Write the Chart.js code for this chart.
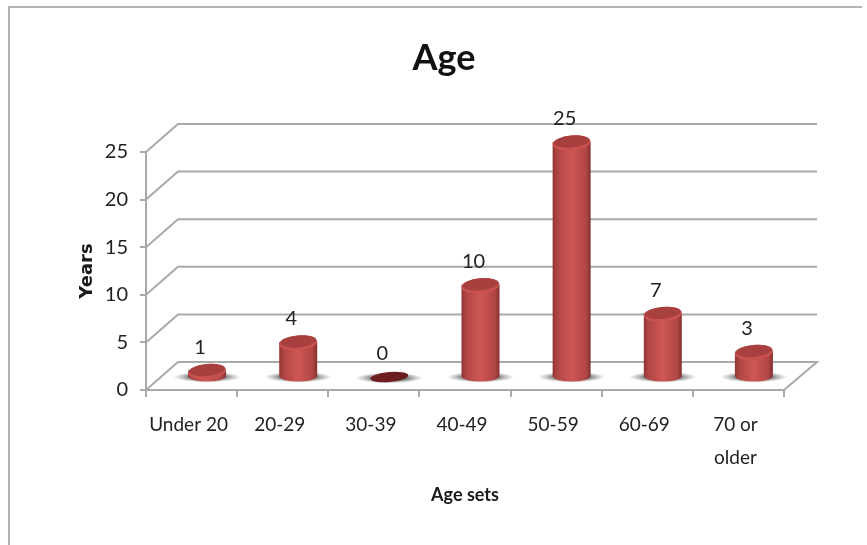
<!DOCTYPE html>
<html>
<head>
<meta charset="utf-8">
<title>Age</title>
<script src="https://cdn.jsdelivr.net/npm/chart.js@4"></script>
<style>
  html, body { margin: 0; padding: 0; background: #fff; overflow: hidden; }
  #wrap { position: relative; width: 867px; height: 545px; }
  #frame { position: absolute; left: 8px; top: 6px; width: 852px; height: 539px;
           border-left: 2px solid #b4b4b4; border-top: 2px solid #b4b4b4; }
  canvas { position: absolute; left: 0; top: 0; filter: blur(0.7px); }
</style>
</head>
<body>
<div id="wrap">
  <div id="frame"></div>
  <canvas id="chart" width="867" height="545"></canvas>
</div>
<script>
const categories = ['Under 20', '20-29', '30-39', '40-49', '50-59', '60-69', ['70 or', 'older']];
const values = [1, 4, 0, 10, 25, 7, 3];
const yTicks = [0, 5, 10, 15, 20, 25];

const chartTitle = 'Age';
const xTitle = 'Age sets';
const yTitle = 'Years';

const gridColor = '#a9a9a9';
const textColor = '#222';
const labelFont = '"Lato", "Open Sans", sans-serif';

// depth of the fake 3D floor, in pixels
const depthX = 32;
const depthY = 28;

// back walls and the floor, hung on the y scale
const wallsPlugin = {
  id: 'walls',
  beforeDatasetsDraw(chart) {
    const { ctx, chartArea, scales } = chart;
    ctx.save();
    ctx.strokeStyle = gridColor;
    ctx.lineWidth = 2;
    yTicks.forEach(function (t) {
      const y = scales.y.getPixelForValue(t);
      ctx.beginPath();
      ctx.moveTo(chartArea.left, y);
      ctx.lineTo(chartArea.left + depthX, y - depthY);
      ctx.lineTo(chartArea.right + depthX + 1, y - depthY);
      if (t === 0) {
        ctx.lineTo(chartArea.right, y);
      }
      ctx.stroke();
    });
    ctx.restore();
  }
};

function ellipse(ctx, x, y, rx, ry) {
  ctx.beginPath();
  ctx.ellipse(x, y, rx, ry, -0.09, 0, Math.PI * 2);
}

// the bars themselves are transparent, a cylinder is painted at each one
const cylinderPlugin = {
  id: 'cylinders',
  afterDatasetsDraw(chart) {
    const ctx = chart.ctx;
    const bars = chart.getDatasetMeta(0).data;
    ctx.save();
    bars.forEach(function (bar, i) {
      const cx = bar.x + 15.5;
      const baseY = bar.base - 13;
      const topY = values[i] === 0 ? baseY : bar.y - 10;
      const rx = 19;
      const ry = 7.5;

      // shadow on the floor
      ctx.save();
      ctx.translate(cx, baseY + 1);
      ctx.scale(1, 0.16);
      const sh = ctx.createRadialGradient(0, 0, 14, 0, 0, 34);
      sh.addColorStop(0, 'rgba(50,50,50,0.85)');
      sh.addColorStop(1, 'rgba(130,130,130,0)');
      ctx.fillStyle = sh;
      ctx.beginPath();
      ctx.arc(0, 0, 34, 0, Math.PI * 2);
      ctx.fill();
      ctx.restore();

      if (values[i] === 0) {
        ctx.fillStyle = '#6d1f1f';
        ellipse(ctx, cx, baseY, rx, 5);
        ctx.fill();
        return;
      }

      const side = ctx.createLinearGradient(cx - rx, 0, cx + rx, 0);
      side.addColorStop(0, '#8f3533');
      side.addColorStop(0.12, '#b04644');
      side.addColorStop(0.5, '#cf5755');
      side.addColorStop(0.88, '#b04644');
      side.addColorStop(1, '#843030');
      ctx.fillStyle = side;
      ctx.beginPath();
      ctx.moveTo(cx - rx, topY);
      ctx.lineTo(cx - rx, baseY);
      ctx.ellipse(cx, baseY, rx, ry - 2, 0, Math.PI, 0, true);
      ctx.lineTo(cx + rx, topY);
      ctx.closePath();
      ctx.fill();

      // lid
      ctx.fillStyle = '#c9524f';
      ellipse(ctx, cx, topY + 1, rx, ry);
      ctx.fill();
      ctx.fillStyle = '#a8403f';
      ellipse(ctx, cx, topY - 0.5, rx - 1, ry - 1.5);
      ctx.fill();
    });
    ctx.restore();
  }
};

// value labels and the title, the title is off centre so it is not the built-in one
const textPlugin = {
  id: 'texts',
  afterDraw(chart) {
    const ctx = chart.ctx;
    const bars = chart.getDatasetMeta(0).data;
    ctx.save();
    ctx.fillStyle = textColor;
    ctx.textAlign = 'center';
    ctx.textBaseline = 'middle';
    ctx.font = '20px ' + labelFont;
    bars.forEach(function (bar, i) {
      const topY = values[i] === 0 ? bar.base - 13 : bar.y - 10;
      ctx.fillText(String(values[i]), bar.x + 8.5, topY - 23);
    });
    ctx.fillStyle = '#111';
    ctx.font = 'bold 36px ' + labelFont;
    ctx.fillText(chartTitle, 444, 58);
    ctx.restore();
  }
};

new Chart(document.getElementById('chart').getContext('2d'), {
  type: 'bar',
  data: {
    labels: categories,
    datasets: [{
      label: 'Age',
      data: values,
      backgroundColor: 'transparent',
      borderWidth: 0
    }]
  },
  plugins: [wallsPlugin, cylinderPlugin, textPlugin],
  options: {
    responsive: false,
    animation: false,
    devicePixelRatio: 1,
    layout: { padding: { left: 73, top: 152, right: 83, bottom: 35 } },
    plugins: {
      legend: { display: false },
      title: { display: false },
      tooltip: { enabled: false }
    },
    scales: {
      x: {
        afterFit(scale) { scale.height = 120; },
        grid: { drawOnChartArea: false, offset: true, color: gridColor, lineWidth: 2, tickLength: 7 },
        border: { color: gridColor, width: 2 },
        ticks: { color: textColor, padding: 12, maxRotation: 0, autoSkip: false, labelOffset: -3,
                 font: { family: labelFont, size: 19, lineHeight: 1.7 } },
        title: { display: true, text: xTitle, color: '#1a1a1a', padding: 4,
                 font: { family: labelFont, size: 18, weight: 'bold' } }
      },
      y: {
        min: 0,
        max: 25,
        afterFit(scale) { scale.width = 73; },
        afterBuildTicks(scale) { scale.ticks = yTicks.map(function (v) { return { value: v }; }); },
        grid: { drawOnChartArea: false, color: gridColor, lineWidth: 2, tickLength: 6 },
        border: { color: gridColor, width: 2 },
        ticks: { color: textColor, padding: 12, font: { family: labelFont, size: 20 } },
        title: { display: true, text: yTitle, color: '#1a1a1a', padding: 4,
                 font: { family: '"DejaVu Sans", sans-serif', size: 18, weight: 'bold' } }
      }
    }
  }
});
</script>
</body>
</html>
